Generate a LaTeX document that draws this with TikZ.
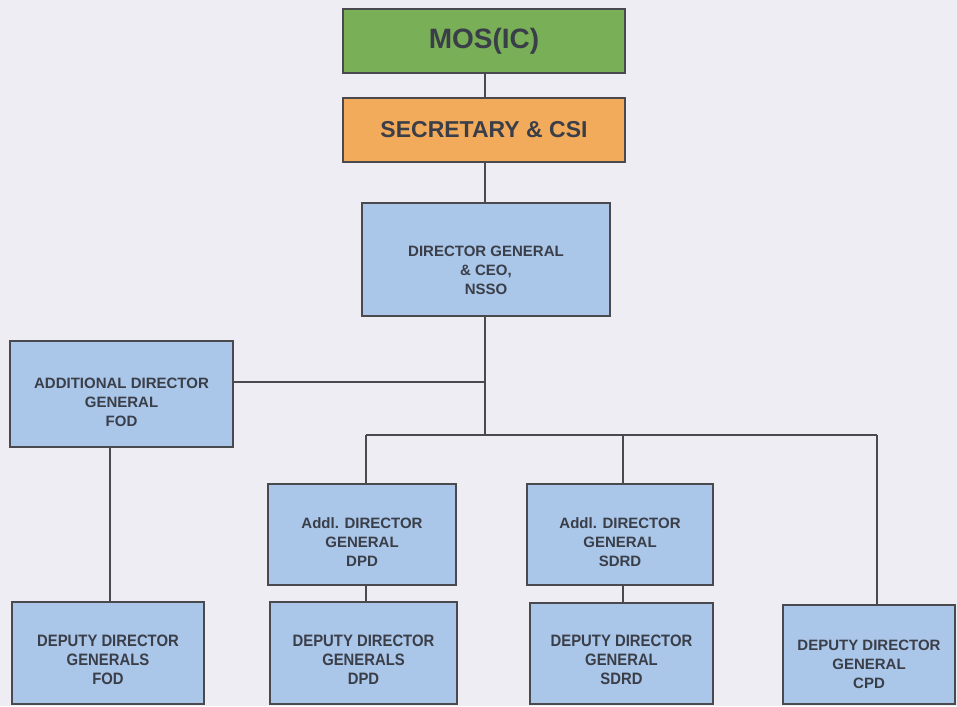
\documentclass[tikz,border=0pt]{standalone}
\usepackage{fontspec}
\setmainfont{Liberation Sans}
\newfontfamily\narrowfont{Liberation Sans}[FakeStretch=0.9]
\definecolor{bgc}{HTML}{EEEDF3}
\definecolor{greenc}{HTML}{79AF57}
\definecolor{orangec}{HTML}{F2AA5B}
\definecolor{bluec}{HTML}{AAC6E8}
\definecolor{linec}{HTML}{4A4A4E}
\definecolor{txtc}{HTML}{3A3E48}
\tikzset{
  box/.style={draw=linec, line width=1.1pt, rectangle, align=center, text=txtc,
    font=\bfseries\fontsize{15}{19}\selectfont, inner sep=0pt},
  bluebox/.style={box, fill=bluec},
  lab/.style={align=center, text=txtc, inner sep=0pt, yshift=-8pt,
    font=\bfseries\fontsize{15}{19}\selectfont},
  narrowlab/.style={lab, yshift=1.5pt, font=\narrowfont\bfseries\fontsize{16.5}{19}\selectfont},
  conn/.style={draw=linec, line width=1.3pt},
}
\begin{document}
\begin{tikzpicture}[x=1pt,y=-1pt]
\fill[bgc] (0,0) rectangle (957,706);
\useasboundingbox (0,0) rectangle (957,706);

\node[box, fill=greenc, minimum width=282pt, minimum height=64pt,
  font=\bfseries\fontsize{28}{30}\selectfont] (mos) at (484,41) {MOS(IC)};
\node[box, fill=orangec, minimum width=282pt, minimum height=64pt,
  font=\bfseries\fontsize{23}{26}\selectfont] (sec) at (484,130) {SECRETARY \& CSI};
\node[bluebox, minimum width=248pt, minimum height=113pt,
  label={[lab, yshift=-3pt]center:{DIRECTOR GENERAL\\ \& CEO,\\ NSSO}}] (dg) at (486,259.5) {};
\node[bluebox, minimum width=223pt, minimum height=106pt,
  label={[lab]center:{ADDITIONAL DIRECTOR\\ GENERAL\\ FOD}}] (adg) at (121.5,394) {};
\node[bluebox, minimum width=188pt, minimum height=101pt,
  label={[lab]center:{Addl. DIRECTOR\\ GENERAL\\ DPD}}] (adpd) at (362,534.5) {};
\node[bluebox, minimum width=186pt, minimum height=101pt,
  label={[lab]center:{Addl. DIRECTOR\\ GENERAL\\ SDRD}}] (asdrd) at (620,534.5) {};
\node[bluebox, minimum width=192pt, minimum height=102pt,
  label={[narrowlab]center:{DEPUTY DIRECTOR\\ GENERALS\\ FOD}}] (dfod) at (108,653) {};
\node[bluebox, minimum width=187pt, minimum height=102pt,
  label={[narrowlab]center:{DEPUTY DIRECTOR\\ GENERALS\\ DPD}}] (ddpd) at (363.5,653) {};
\node[bluebox, minimum width=183pt, minimum height=101pt,
  label={[narrowlab]center:{DEPUTY DIRECTOR\\ GENERAL\\ SDRD}}] (dsdrd) at (621.5,653.5) {};
\node[bluebox, minimum width=172pt, minimum height=99pt,
  label={[lab, yshift=-1.5pt]center:{DEPUTY DIRECTOR\\ GENERAL\\ CPD}}] (dcpd) at (869,654.5) {};

\coordinate (jm) at (485,435);
\coordinate (ja) at (485,382);
\coordinate (hl) at (366,435);
\coordinate (hm) at (623,435);
\coordinate (hr) at (877,435);
\coordinate (xf) at (110,447);

\draw[conn] (mos.south -| jm) -- (sec.north -| jm);
\draw[conn] (sec.south -| jm) -- (dg.north -| jm);
\draw[conn] (dg.south -| jm) -- (jm);
\draw[conn] (adg.east |- ja) -- (ja);
\draw[conn] (hl) -- (hr);
\draw[conn] (hl) -- (hl |- adpd.north);
\draw[conn] (hm) -- (hm |- asdrd.north);
\draw[conn] (hr) -- (hr |- dcpd.north);
\draw[conn] (adpd.south -| hl) -- (ddpd.north -| hl);
\draw[conn] (asdrd.south -| hm) -- (dsdrd.north -| hm);
\draw[conn] (adg.south -| xf) -- (dfod.north -| xf);
\end{tikzpicture}
\end{document}
